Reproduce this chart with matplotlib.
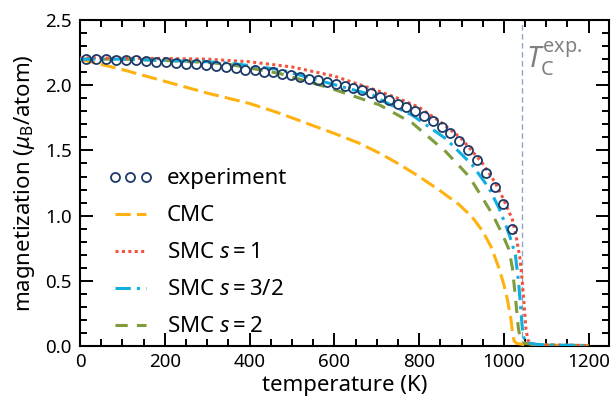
import matplotlib
matplotlib.use("Agg")
import matplotlib.pyplot as plt
from matplotlib.ticker import MultipleLocator, FormatStrFormatter

plt.rcParams['font.family'] = ['Noto Sans', 'DejaVu Sans']
plt.rcParams['mathtext.fontset'] = 'custom'
plt.rcParams['mathtext.rm'] = 'Noto Sans'
plt.rcParams['mathtext.it'] = 'Noto Sans:italic'
plt.rcParams['mathtext.bf'] = 'Noto Sans:bold'

# ---- data ----
exp_T = [15, 38, 62, 85, 109, 132, 156, 179, 203, 226, 250, 273, 297, 320, 344, 367,
         390, 412, 434, 456, 477, 498, 519, 540, 561, 582, 603, 624, 645, 666, 687,
         708, 729, 749, 770, 791, 812, 832, 853, 873, 894, 915, 936, 957, 978, 999, 1020]
exp_M = [2.20, 2.20, 2.20, 2.195, 2.19, 2.19, 2.185, 2.18, 2.175, 2.17, 2.165, 2.16,
         2.155, 2.145, 2.14, 2.13, 2.12, 2.115, 2.105, 2.10, 2.085, 2.075, 2.065, 2.05,
         2.04, 2.025, 2.01, 1.995, 1.98, 1.96, 1.94, 1.91, 1.885, 1.855, 1.83, 1.80,
         1.765, 1.725, 1.68, 1.63, 1.57, 1.50, 1.43, 1.33, 1.22, 1.09, 0.90]

cmc_T = [0, 100, 200, 300, 400, 471, 550, 600, 659, 706, 750, 800, 850, 894, 925, 950,
         970, 988, 1000, 1008, 1016, 1020, 1024, 1030, 1050, 1100, 1200]
cmc_M = [2.20, 2.12, 2.03, 1.94, 1.86, 1.785, 1.69, 1.63, 1.555, 1.48, 1.40, 1.30, 1.19,
         1.085, 0.99, 0.88, 0.76, 0.60, 0.47, 0.36, 0.22, 0.11, 0.04, 0.02, 0.01, 0.005, 0.003]

s1_T = [0, 200, 300, 400, 500, 600, 700, 750, 800, 850, 900, 950, 980, 1000, 1020,
        1030, 1038, 1044, 1048, 1052, 1057, 1070, 1100, 1200]
s1_M = [2.21, 2.205, 2.20, 2.18, 2.14, 2.07, 1.96, 1.90, 1.83, 1.72, 1.59, 1.40, 1.25,
        1.12, 0.97, 0.82, 0.67, 0.47, 0.30, 0.13, 0.04, 0.015, 0.008, 0.004]

s15_T = [0, 100, 200, 300, 353, 471, 588, 690, 714, 784, 863, 925, 965, 988, 1004, 1015,
         1027, 1035, 1041, 1045, 1052, 1070, 1100, 1200]
s15_M = [2.20, 2.20, 2.19, 2.18, 2.17, 2.12, 2.015, 1.925, 1.88, 1.77, 1.59, 1.39, 1.21,
         1.06, 0.93, 0.83, 0.70, 0.48, 0.23, 0.08, 0.03, 0.015, 0.008, 0.004]

s2_T = [0, 100, 200, 300, 353, 471, 588, 706, 784, 863, 918, 941, 973, 996, 1012, 1020,
        1027, 1034, 1039, 1050, 1070, 1100, 1200]
s2_M = [2.20, 2.20, 2.19, 2.175, 2.16, 2.09, 1.98, 1.85, 1.71, 1.49, 1.30, 1.18, 1.01,
        0.86, 0.74, 0.60, 0.38, 0.14, 0.05, 0.02, 0.012, 0.007, 0.004]

Tc_exp = 1043

# ---- figure ----
fig = plt.figure(figsize=(6.14, 4.09), dpi=100)
ax = fig.add_axes([0.1303, 0.154, 0.8616, 0.797])

ax.axvline(Tc_exp, color='#8DA6C6', lw=1.0, ls=(0, (4, 2.5)), zorder=1)

ax.plot(exp_T, exp_M, ls='none', marker='o', ms=6.5, mfc='none', mec='#1E3B68',
        mew=1.3, label='experiment', zorder=5)
ax.plot(cmc_T, cmc_M, color='#FFB20F', lw=2.2, ls=(0, (5, 2)), label='CMC', zorder=3)
ax.plot(s1_T, s1_M, color='#F2533D', lw=2.2, ls=(0, (1, 1.1)), label='SMC $s = 1$', zorder=4)
ax.plot(s15_T, s15_M, color='#12AEE0', lw=2.2, ls=(0, (5, 2, 1, 2)),
        label='SMC $s = 3/2$', zorder=4)
ax.plot(s2_T, s2_M, color='#7F9C3B', lw=2.2, ls=(0, (4, 3)), label='SMC $s = 2$', zorder=3)

ax.text(Tc_exp + 8, 2.2, r'$T_\mathrm{C}^\mathrm{exp.}$', color='#808080', fontsize=20.5,
        ha='left', va='center')

ax.set_xlim(0, 1248)
ax.set_ylim(0, 2.5)
ax.xaxis.set_major_locator(MultipleLocator(200))
ax.xaxis.set_minor_locator(MultipleLocator(50))
ax.yaxis.set_major_locator(MultipleLocator(0.5))
ax.yaxis.set_minor_locator(MultipleLocator(0.1))
ax.yaxis.set_major_formatter(FormatStrFormatter('%.1f'))
ax.tick_params(which='both', direction='in', top=True, right=True, width=1.4,
               labelsize=13.5)
ax.tick_params(axis='x', which='both', pad=5)
ax.tick_params(axis='y', which='both', pad=6)
ax.tick_params(which='major', length=9.5)
ax.tick_params(which='minor', length=5)
for sp in ax.spines.values():
    sp.set_linewidth(1.5)

ax.set_xlabel('temperature (K)', fontsize=16, labelpad=3)
ax.set_ylabel(r'magnetization ($\mu_\mathrm{B}$/atom)', fontsize=16, labelpad=6)

ax.legend(loc='lower left', bbox_to_anchor=(0.015, -0.035), frameon=False, fontsize=16,
          numpoints=3, handlelength=2.0, handletextpad=0.65, labelspacing=0.72)

fig.savefig('out.png', dpi=100)
